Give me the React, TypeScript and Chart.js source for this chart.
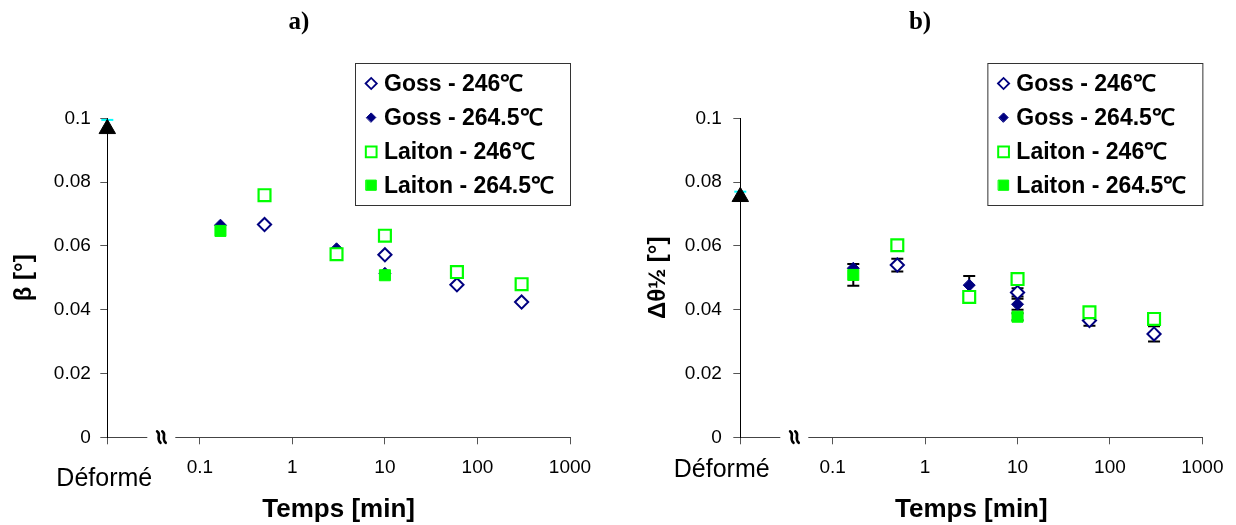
import React, { useEffect, useRef } from 'react';
import { Chart, registerables } from 'chart.js';

Chart.register(...registerables);

const SANS = '"Liberation Sans", Arial, sans-serif';
const SERIF = '"Liberation Serif", "Times New Roman", serif';

// ---------- shared axes / labels ----------
const X_TICKS = [0.01, 0.1, 1, 10, 100, 1000];
const X_TICK_LABELS = ['', '0.1', '1', '10', '100', '1000'];
const Y_TICKS = [0, 0.02, 0.04, 0.06, 0.08, 0.1];
const Y_TICK_LABELS = ['0', '0.02', '0.04', '0.06', '0.08', '0.1'];
const DEFORME_T = 0.01;
const DEFORME_LABEL = 'Déformé';
const X_TITLE = 'Temps [min]';
const SERIES_NAMES = ['Goss - 246℃', 'Goss - 264.5℃', 'Laiton - 246℃', 'Laiton - 264.5℃'];

// ---------- panel a) beta ----------
const A_TITLE = 'a)';
const A_Y_TITLE = 'β [°]';
const A_DEFORME = [0.0967];
const A_DEFORME_CYAN = [0.0995];
const A_GOSS246_T = [0.5, 10, 60, 300];
const A_GOSS246_V = [0.0667, 0.0572, 0.0478, 0.0424];
const A_GOSS2645_T = [0.167, 3, 10];
const A_GOSS2645_V = [0.0665, 0.0591, 0.0514];
const A_LAITON246_T = [0.5, 3, 10, 60, 300];
const A_LAITON246_V = [0.0759, 0.0574, 0.0632, 0.0518, 0.048];
const A_LAITON2645_T = [0.167, 10];
const A_LAITON2645_V = [0.0647, 0.0508];

// ---------- panel b) delta theta 1/2 ----------
const B_TITLE = 'b)';
const B_Y_TITLE = 'Δθ½ [°]';
const B_DEFORME = [0.0754];
const B_DEFORME_CYAN = [0.077];
const B_GOSS246_T = [0.5, 10, 60, 300];
const B_GOSS246_V = [0.054, 0.0454, 0.0366, 0.0324];
const B_GOSS246_ERR = [0.002, 0.0013, 0.0016, 0.0024];
const B_GOSS2645_T = [0.167, 3, 10];
const B_GOSS2645_V = [0.053, 0.0477, 0.0417];
const B_GOSS2645_ERR = [0, 0.0029, 0.0017];
const B_LAITON246_T = [0.5, 3, 10, 60, 300];
const B_LAITON246_V = [0.0602, 0.044, 0.0496, 0.0392, 0.0371];
const B_LAITON2645_T = [0.167, 10];
const B_LAITON2645_V = [0.0509, 0.0378];
const B_LAITON2645_ERR = [0.0034, 0.0011];

// ---------- styles ----------
const STYLES = [
  { ps: 'rectRot', r: 6.6, bg: '#ffffff', border: '#000080', bw: 2, lr: 5.6, lbw: 1.8 },
  { ps: 'rectRot', r: 6, bg: '#000080', border: '#000080', bw: 1, lr: 4.6, lbw: 1 },
  { ps: 'rect', r: 8.4, bg: '#ffffff', border: '#00ff00', bw: 2.2, lr: 7.6, lbw: 2 },
  { ps: 'rect', r: 7.8, bg: '#00ff00', border: '#00ff00', bw: 1, lr: 7.2, lbw: 1 },
];
const ORDER = [3, 4, 1, 2];

type Series = { t: number[]; v: number[]; err?: number[] };
type Panel = {
  title: string;
  yTitle: string;
  deforme: number[];
  cyan: number[];
  series: Series[];
  lay: {
    yWidth: number;
    padRight: number;
    yTickPad: number;
    yTitlePad: number;
    defDx: number;
    defY: number;
    titleX: number;
  };
};

const PANEL_A: Panel = {
  title: A_TITLE,
  yTitle: A_Y_TITLE,
  deforme: A_DEFORME,
  cyan: A_DEFORME_CYAN,
  series: [
    { t: A_GOSS246_T, v: A_GOSS246_V },
    { t: A_GOSS2645_T, v: A_GOSS2645_V },
    { t: A_LAITON246_T, v: A_LAITON246_V },
    { t: A_LAITON2645_T, v: A_LAITON2645_V },
  ],
  lay: { yWidth: 107.3, padRight: 48, yTickPad: 9.5, yTitlePad: 9.6, defDx: -3, defY: 479, titleX: 299 },
};

const PANEL_B: Panel = {
  title: B_TITLE,
  yTitle: B_Y_TITLE,
  deforme: B_DEFORME,
  cyan: B_DEFORME_CYAN,
  series: [
    { t: B_GOSS246_T, v: B_GOSS246_V, err: B_GOSS246_ERR },
    { t: B_GOSS2645_T, v: B_GOSS2645_V, err: B_GOSS2645_ERR },
    { t: B_LAITON246_T, v: B_LAITON246_V },
    { t: B_LAITON2645_T, v: B_LAITON2645_V, err: B_LAITON2645_ERR },
  ],
  lay: { yWidth: 122.3, padRight: 32.6, yTickPad: 11.5, yTitlePad: 25.6, defDx: -18.6, defY: 470, titleX: 302 },
};

const pts = (t: number[], v: number[]) => t.map((x, i) => ({ x, y: v[i] }));

function drawMarker(ctx: CanvasRenderingContext2D, st: any, x: number, y: number, r: number, bw: number) {
  ctx.save();
  ctx.beginPath();
  if (st.ps === 'rect') {
    const s = r * Math.SQRT1_2;
    ctx.rect(x - s, y - s, 2 * s, 2 * s);
  } else {
    ctx.moveTo(x - r, y);
    ctx.lineTo(x, y - r);
    ctx.lineTo(x + r, y);
    ctx.lineTo(x, y + r);
    ctx.closePath();
  }
  ctx.fillStyle = st.bg;
  ctx.fill();
  ctx.lineWidth = bw;
  ctx.strokeStyle = st.border;
  ctx.stroke();
  ctx.restore();
}

function makePlugins(p: Panel) {
  const errorBars = {
    id: 'errorBars',
    beforeDatasetsDraw(chart: any) {
      const ctx = chart.ctx;
      const ys = chart.scales.y;
      ctx.save();
      ctx.strokeStyle = '#000';
      ctx.lineWidth = 2;
      chart.data.datasets.forEach((ds: any, di: number) => {
        if (!ds.errors) return;
        const meta = chart.getDatasetMeta(di);
        ds.data.forEach((d: any, i: number) => {
          const e = ds.errors[i];
          if (!e) return;
          const el = meta.data[i];
          const x = el.x;
          const y1 = ys.getPixelForValue(d.y + e);
          const y2 = ys.getPixelForValue(d.y - e);
          ctx.beginPath();
          ctx.moveTo(x, y1);
          ctx.lineTo(x, y2);
          ctx.moveTo(x - 6, y1);
          ctx.lineTo(x + 6, y1);
          ctx.moveTo(x - 6, y2);
          ctx.lineTo(x + 6, y2);
          ctx.stroke();
        });
      });
      ctx.restore();
    },
  };

  const decor = {
    id: 'decor',
    afterDraw(chart: any) {
      const ctx = chart.ctx;
      const ca = chart.chartArea;
      const xs = chart.scales.x;
      const x0 = xs.getPixelForValue(DEFORME_T);
      ctx.save();
      // axis break
      ctx.fillStyle = '#fff';
      ctx.fillRect(x0 + 40, ca.bottom - 3, 28, 6);
      const cx = x0 + 54;
      const cy = ca.bottom;
      ctx.strokeStyle = '#000';
      ctx.lineWidth = 2.6;
      ctx.lineCap = 'round';
      for (let k = 0; k < 2; k++) {
        const xx = cx - 2.6 + k * 5.2;
        ctx.beginPath();
        ctx.moveTo(xx - 1.6, cy - 6);
        ctx.bezierCurveTo(xx + 3.2, cy - 3, xx - 3.2, cy + 1, xx + 1.8, cy + 5.5);
        ctx.stroke();
      }
      // Déformé label
      ctx.fillStyle = '#000';
      ctx.font = `25px ${SANS}`;
      ctx.textAlign = 'center';
      ctx.textBaseline = 'middle';
      ctx.fillText(DEFORME_LABEL, x0 + p.lay.defDx, p.lay.defY);
      // panel title
      ctx.font = `bold 25px ${SERIF}`;
      ctx.fillText(p.title, p.lay.titleX, 23);
      // legend
      const bw = 215;
      const bh = 142;
      const lx = ca.right - bw + 0.5;
      const ly = 63.5;
      ctx.fillStyle = '#fff';
      ctx.fillRect(lx, ly, bw, bh);
      ctx.strokeStyle = '#333';
      ctx.lineWidth = 1;
      ctx.strokeRect(lx, ly, bw, bh);
      const rows = [20, 54, 88.4, 121.7];
      SERIES_NAMES.forEach((name, i) => {
        const st = STYLES[i];
        const ry = ly + rows[i];
        drawMarker(ctx, st, lx + 15.7, ry, st.lr, st.lbw);
        ctx.fillStyle = '#000';
        ctx.font = `bold 23px ${SANS}`;
        ctx.textAlign = 'left';
        ctx.textBaseline = 'middle';
        ctx.fillText(name, lx + 28.5, ry + 1);
      });
      ctx.restore();
    },
  };
  return [errorBars, decor];
}

function buildConfig(p: Panel): any {
  const datasets: any[] = p.series.map((s, i) => ({
    label: SERIES_NAMES[i],
    data: pts(s.t, s.v),
    errors: s.err,
    showLine: false,
    pointStyle: STYLES[i].ps,
    pointRadius: STYLES[i].r,
    backgroundColor: STYLES[i].bg,
    borderColor: STYLES[i].border,
    borderWidth: STYLES[i].bw,
    pointBorderWidth: STYLES[i].bw,
    order: ORDER[i],
    clip: false,
  }));
  datasets.push({
    label: 'cyan',
    data: [{ x: DEFORME_T, y: p.cyan[0] }],
    showLine: false,
    pointStyle: 'line',
    pointRadius: 6,
    borderColor: '#00ffff',
    backgroundColor: '#00ffff',
    borderWidth: 2,
    pointBorderWidth: 2,
    order: 6,
    clip: false,
  });
  datasets.push({
    label: DEFORME_LABEL,
    data: [{ x: DEFORME_T, y: p.deforme[0] }],
    showLine: false,
    pointStyle: 'triangle',
    pointRadius: 9.5,
    borderColor: '#000',
    backgroundColor: '#000',
    borderWidth: 1,
    pointBorderWidth: 1,
    order: 5,
    clip: false,
  });

  return {
    type: 'scatter',
    data: { datasets },
    plugins: makePlugins(p),
    options: {
      animation: false,
      responsive: false,
      devicePixelRatio: 1,
      events: [],
      layout: { padding: { left: 0, top: 118.3, right: p.lay.padRight, bottom: 0 } },
      plugins: { legend: { display: false }, tooltip: { enabled: false }, title: { display: false } },
      scales: {
        x: {
          type: 'logarithmic',
          position: 'bottom',
          min: 0.01,
          max: 1000,
          afterBuildTicks: (s: any) => {
            s.ticks = X_TICKS.map((v) => ({ value: v }));
          },
          afterFit: (s: any) => {
            s.height = 87.7;
          },
          ticks: {
            autoSkip: false,
            maxRotation: 0,
            padding: 12.5,
            color: '#000',
            font: { family: SANS, size: 19 },
            callback: (v: number) => {
              const i = X_TICKS.findIndex((t) => Math.abs(t - v) < 1e-9);
              return i >= 0 ? X_TICK_LABELS[i] : '';
            },
          },
          grid: { display: true, drawOnChartArea: false, drawTicks: true, tickLength: 7, color: '#555' },
          border: { display: true, color: '#444', width: 1 },
          title: {
            display: true,
            text: X_TITLE,
            color: '#000',
            font: { family: SANS, size: 26, weight: 'bold' },
            padding: { top: 0, bottom: 0 },
          },
        },
        y: {
          type: 'linear',
          position: 'left',
          min: 0,
          max: 0.1,
          afterBuildTicks: (s: any) => {
            s.ticks = Y_TICKS.map((v) => ({ value: v }));
          },
          afterFit: (s: any) => {
            s.width = p.lay.yWidth;
          },
          ticks: {
            padding: p.lay.yTickPad,
            color: '#000',
            font: { family: SANS, size: 19 },
            callback: (v: number) => {
              const i = Y_TICKS.findIndex((t) => Math.abs(t - v) < 1e-9);
              return i >= 0 ? Y_TICK_LABELS[i] : '';
            },
          },
          grid: { display: true, drawOnChartArea: false, drawTicks: true, tickLength: 7, color: '#555' },
          border: { display: true, color: '#000', width: 1 },
          title: {
            display: true,
            text: p.yTitle,
            color: '#000',
            font: { family: SANS, size: 24, weight: 'bold' },
            padding: { top: p.lay.yTitlePad, bottom: 0 },
          },
        },
      },
    },
  };
}

function PanelChart({ panel }: { panel: Panel }) {
  const ref = useRef<HTMLCanvasElement | null>(null);
  useEffect(() => {
    if (!ref.current) return;
    const chart = new Chart(ref.current, buildConfig(panel));
    return () => chart.destroy();
  }, [panel]);
  return <canvas ref={ref} width={618} height={525} style={{ display: 'block', width: 618, height: 525 }} />;
}

export default function App() {
  return (
    <div style={{ position: 'absolute', left: 0, top: 0, width: 1236, height: 525, background: '#fff', display: 'flex' }}>
      <PanelChart panel={PANEL_A} />
      <PanelChart panel={PANEL_B} />
    </div>
  );
}
